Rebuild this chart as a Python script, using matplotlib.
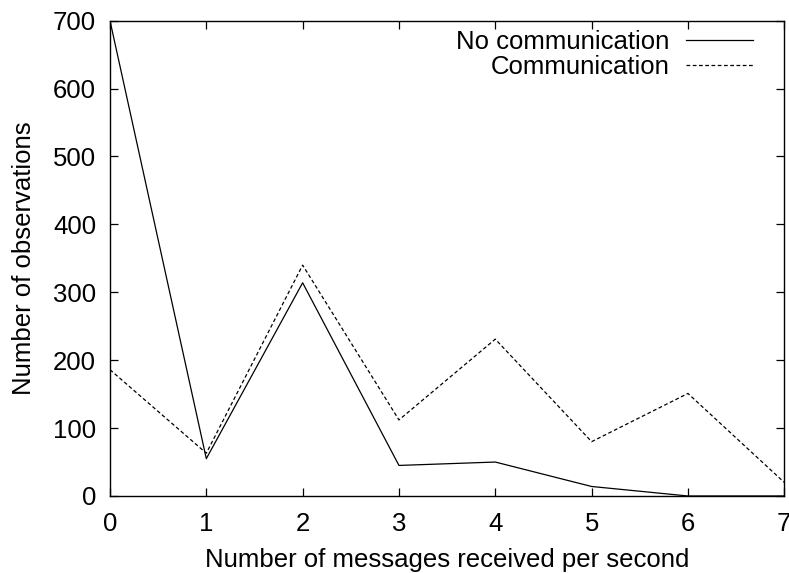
import matplotlib
matplotlib.use("Agg")
import matplotlib.pyplot as plt

# Messages received per second vs. number of observations
rate = [0, 1, 2, 3, 4, 5, 6, 7]
no_communication = [700, 55, 314, 45, 50, 14, 0, 0]
communication = [186, 63, 340, 112, 231, 80, 151, 20]

x_ticks = [0, 1, 2, 3, 4, 5, 6, 7]
y_ticks = [0, 100, 200, 300, 400, 500, 600, 700]

FS = 18.5

plt.rcParams["font.family"] = ["Liberation Sans", "DejaVu Sans"]
plt.rcParams["font.size"] = FS

fig = plt.figure(figsize=(7.89, 5.73), dpi=100)
ax = fig.add_axes([0.1394, 0.1344, 0.8546, 0.8295])

ax.plot(rate, no_communication, color="black", lw=0.9,
        label="No communication")
ax.plot(rate, communication, color="black", lw=0.9,
        linestyle=(0, (3.0, 2.0)), label="Communication")

ax.set_xlim(0, 7)
ax.set_ylim(0, 700)
ax.set_xticks(x_ticks)
ax.set_yticks(y_ticks)
ax.tick_params(axis="both", which="major", direction="in", length=5.5,
               width=0.9, top=True, right=True, labelsize=FS)
ax.tick_params(axis="x", pad=11.5)
ax.tick_params(axis="y", pad=10)

for spine in ax.spines.values():
    spine.set_linewidth(1.0)

ax.set_xlabel("Number of messages received per second", fontsize=FS,
              labelpad=9)
ax.set_ylabel("Number of observations", fontsize=FS, labelpad=12)

ax.legend(loc="upper right", bbox_to_anchor=(0.9536, 0.981),
          frameon=False, markerfirst=False, borderpad=0,
          borderaxespad=0, handlelength=2.6, handletextpad=0.65,
          labelspacing=0.05, fontsize=FS)

fig.savefig("out.png", dpi=100)
